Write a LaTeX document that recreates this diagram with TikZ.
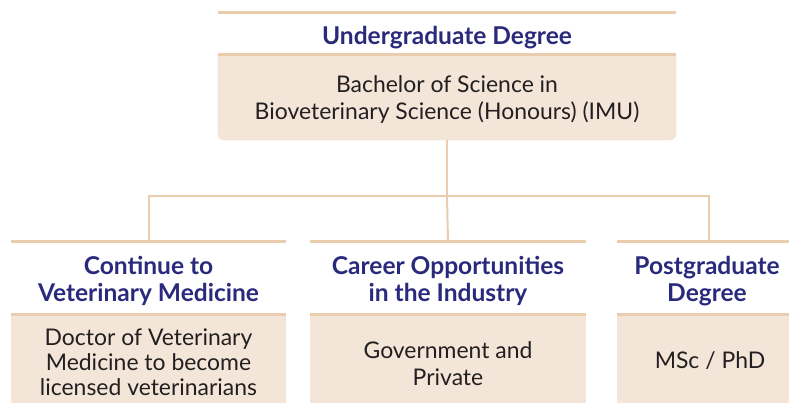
\documentclass[tikz,border=0pt]{standalone}
\usepackage{fontspec}
\setmainfont{Lato}
\usetikzlibrary{backgrounds}
\definecolor{rulecol}{HTML}{EACDAF}
\definecolor{boxcol}{HTML}{F3E6D9}
\definecolor{headcol}{HTML}{2A2A7C}
\definecolor{bodycol}{HTML}{231F20}
\begin{document}
\begin{tikzpicture}[x=0.75pt, y=-0.75pt,
  frame/.style={inner sep=0pt, minimum height=#1},
  headtext/.style={inner sep=0pt, anchor=base, text=headcol, align=center, font=\fontsize{18.4}{20.6}\selectfont\bfseries},
  bodytext/.style={inner sep=0pt, anchor=base, text=bodycol, align=center, font=\fontsize{17.2}{#1}\selectfont},
  boxfill/.style={fill=boxcol},
  rule/.style={draw=rulecol, line width=2pt},
  link/.style={draw=rulecol, line width=1.5pt}]
\path[use as bounding box, clip] (0,0) rectangle (789,403);
% frames
\node[frame=30.75pt, minimum width=343.5pt] (head0) at (447, 33.5) {};
\node[frame=64.5pt, minimum width=343.5pt] (box0) at (447, 97) {};
\node[frame=54pt, minimum width=206.25pt] (head1) at (148.5, 278) {};
\node[frame=54pt, minimum width=207pt] (head2) at (448, 278) {};
\node[frame=54pt, minimum width=137.25pt] (head3) at (708.5, 278) {};
\node[frame=66pt, boxfill, minimum width=206.25pt] (box1) at (148.5, 359) {};
\node[frame=66pt, boxfill, minimum width=207pt] (box2) at (448, 359) {};
\node[frame=66pt, boxfill, minimum width=137.25pt] (box3) at (708.5, 359) {};
\begin{scope}[on background layer]
\fill[boxfill] (box0.north west) [rounded corners=4.5pt] -- (box0.south west) -- (box0.south east) [sharp corners] -- (box0.north east) -- cycle;
\end{scope}
% texts, placed by the baseline of their last line
\node[headtext] (headtxt0) at (447, 45) {Undergraduate Degree};
\node[bodytext=20.25pt] (boxtxt0) at (447, 119) {Bachelor of Science in\\Bioveterinary Science (Honours) (IMU)};
\node[headtext] (headtxt1) at (148.5, 301.5) {Continue to\\Veterinary Medicine};
\node[headtext] (headtxt2) at (448, 301.5) {Career Opportunities\\in the Industry};
\node[headtext] (headtxt3) at (707, 301.5) {Postgraduate\\Degree};
\node[bodytext=18.75pt] (boxtxt1) at (148.5, 395) {Doctor of Veterinary\\Medicine to become\\licensed veterinarians};
\node[bodytext=20.25pt] (boxtxt2) at (448, 385) {Government and\\Private};
\node[bodytext=18.75pt] (boxtxt3) at (710, 368.5) {MSc / PhD};
% rules
\foreach \n in {head0, head1, head2, head3} {
  \draw[rule] (\n.north west) -- (\n.north east);
  \draw[rule] (\n.south west) -- (\n.south east);
}
% connectors
\coordinate (bus) at (447, 196);
\draw[link] (box0.south) -- (bus);
\draw[link] (bus) -| (head1.north);
\draw[link] (bus) -- (head2.north);
\draw[link] (bus) -| (head3.north);
\end{tikzpicture}
\end{document}
